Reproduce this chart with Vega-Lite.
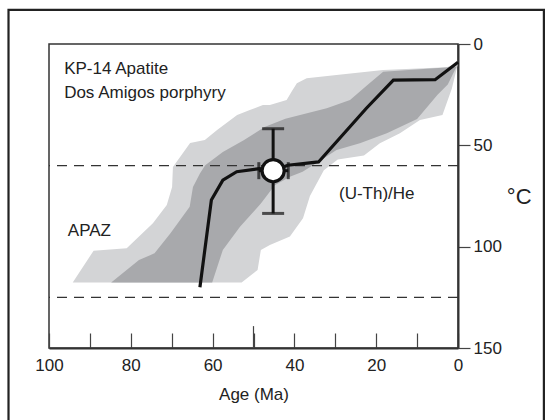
{
  "$schema": "https://vega.github.io/schema/vega-lite/v6.json",
  "width": 409,
  "height": 304,
  "autosize": {"type": "none"},
  "padding": {"left": 49, "top": 44, "right": 88, "bottom": 72},
  "background": "white",
  "config": {
    "view": {"stroke": "#333", "strokeWidth": 1.5},
    "font": "Liberation Sans",
    "axis": {"labelFont": "Liberation Sans", "titleFont": "Liberation Sans", "labelColor": "#222", "titleColor": "#222", "titleFontWeight": "normal", "grid": false}
  },
  "datasets": {
    "envelopes": [
      {"fit": "acceptable", "i": 1, "age": 94.2, "T": 117.7},
      {"fit": "acceptable", "i": 2, "age": 89.1, "T": 102},
      {"fit": "acceptable", "i": 3, "age": 81, "T": 100.8},
      {"fit": "acceptable", "i": 4, "age": 74.6, "T": 88.5},
      {"fit": "acceptable", "i": 5, "age": 71.2, "T": 79.5},
      {"fit": "acceptable", "i": 6, "age": 69.9, "T": 70.5},
      {"fit": "acceptable", "i": 7, "age": 69.7, "T": 60.7},
      {"fit": "acceptable", "i": 8, "age": 65.5, "T": 48.8},
      {"fit": "acceptable", "i": 9, "age": 61.9, "T": 47.4},
      {"fit": "acceptable", "i": 10, "age": 58.9, "T": 42.4},
      {"fit": "acceptable", "i": 11, "age": 54.0, "T": 35.0},
      {"fit": "acceptable", "i": 12, "age": 50.9, "T": 32.6},
      {"fit": "acceptable", "i": 13, "age": 47.7, "T": 30.1},
      {"fit": "acceptable", "i": 14, "age": 46.0, "T": 30.1},
      {"fit": "acceptable", "i": 15, "age": 41.9, "T": 27.6},
      {"fit": "acceptable", "i": 16, "age": 40.7, "T": 23.5},
      {"fit": "acceptable", "i": 17, "age": 39.4, "T": 19.4},
      {"fit": "acceptable", "i": 18, "age": 37.0, "T": 16.9},
      {"fit": "acceptable", "i": 19, "age": 29.7, "T": 15.3},
      {"fit": "acceptable", "i": 20, "age": 18.3, "T": 12.8},
      {"fit": "acceptable", "i": 21, "age": 2.8, "T": 11.5},
      {"fit": "acceptable", "i": 22, "age": 0, "T": 9.5},
      {"fit": "acceptable", "i": 23, "age": 1.5, "T": 22},
      {"fit": "acceptable", "i": 24, "age": 3.8, "T": 35},
      {"fit": "acceptable", "i": 25, "age": 9.3, "T": 37.5},
      {"fit": "acceptable", "i": 26, "age": 14.2, "T": 44},
      {"fit": "acceptable", "i": 27, "age": 19.1, "T": 49},
      {"fit": "acceptable", "i": 28, "age": 23, "T": 55},
      {"fit": "acceptable", "i": 29, "age": 29.4, "T": 57},
      {"fit": "acceptable", "i": 30, "age": 32.8, "T": 62.3},
      {"fit": "acceptable", "i": 31, "age": 36.2, "T": 75},
      {"fit": "acceptable", "i": 32, "age": 37.9, "T": 86},
      {"fit": "acceptable", "i": 33, "age": 41.1, "T": 95},
      {"fit": "acceptable", "i": 34, "age": 46, "T": 99.2},
      {"fit": "acceptable", "i": 35, "age": 48.2, "T": 101.6},
      {"fit": "acceptable", "i": 36, "age": 49, "T": 111.5},
      {"fit": "acceptable", "i": 37, "age": 52.9, "T": 117.7},
      {"fit": "good", "i": 1, "age": 84.8, "T": 117.7},
      {"fit": "good", "i": 2, "age": 78, "T": 106.6},
      {"fit": "good", "i": 3, "age": 74.2, "T": 103.3},
      {"fit": "good", "i": 4, "age": 70.3, "T": 93.4},
      {"fit": "good", "i": 5, "age": 65.6, "T": 80.3},
      {"fit": "good", "i": 6, "age": 64.8, "T": 70.5},
      {"fit": "good", "i": 7, "age": 63.1, "T": 63.9},
      {"fit": "good", "i": 8, "age": 61.8, "T": 59.8},
      {"fit": "good", "i": 9, "age": 57.5, "T": 53.3},
      {"fit": "good", "i": 10, "age": 52.4, "T": 47.5},
      {"fit": "good", "i": 11, "age": 47.3, "T": 41},
      {"fit": "good", "i": 12, "age": 42.2, "T": 36.9},
      {"fit": "good", "i": 13, "age": 38.6, "T": 35},
      {"fit": "good", "i": 14, "age": 32.1, "T": 31.7},
      {"fit": "good", "i": 15, "age": 26.4, "T": 27.6},
      {"fit": "good", "i": 16, "age": 22, "T": 20},
      {"fit": "good", "i": 17, "age": 18.3, "T": 13.7},
      {"fit": "good", "i": 18, "age": 0.3, "T": 11.2},
      {"fit": "good", "i": 19, "age": 0, "T": 9.8},
      {"fit": "good", "i": 20, "age": 2.5, "T": 20},
      {"fit": "good", "i": 21, "age": 5, "T": 25},
      {"fit": "good", "i": 22, "age": 10, "T": 37},
      {"fit": "good", "i": 23, "age": 17.4, "T": 44},
      {"fit": "good", "i": 24, "age": 24, "T": 49},
      {"fit": "good", "i": 25, "age": 29.7, "T": 52.3},
      {"fit": "good", "i": 26, "age": 34, "T": 58},
      {"fit": "good", "i": 27, "age": 38, "T": 63},
      {"fit": "good", "i": 28, "age": 41.1, "T": 65.5},
      {"fit": "good", "i": 29, "age": 44.8, "T": 69.7},
      {"fit": "good", "i": 30, "age": 48.2, "T": 78.7},
      {"fit": "good", "i": 31, "age": 53.3, "T": 90.2},
      {"fit": "good", "i": 32, "age": 57.5, "T": 101.6},
      {"fit": "good", "i": 33, "age": 60.1, "T": 117.7}
    ],
    "bestfit": [
      {"i": 1, "age": 63.1, "T": 120},
      {"i": 2, "age": 60.3, "T": 77},
      {"i": 3, "age": 57.5, "T": 67.2},
      {"i": 4, "age": 54.1, "T": 63},
      {"i": 5, "age": 48.6, "T": 61.5},
      {"i": 6, "age": 45.2, "T": 62.5},
      {"i": 7, "age": 41.6, "T": 59.8},
      {"i": 8, "age": 34.1, "T": 58.2},
      {"i": 9, "age": 22.4, "T": 31.7},
      {"i": 10, "age": 15.8, "T": 17.8},
      {"i": 11, "age": 5.6, "T": 17.6},
      {"i": 12, "age": 0, "T": 9}
    ],
    "sample": [
      {"age": 45.2, "T": 62.5, "Tlow": 41.8, "Thigh": 83.6, "ageOld": 48.7, "ageYoung": 41.5}
    ],
    "apaz": [{"T": 60}, {"T": 125}],
    "labels": [
      {"age": 96.3, "T": 12.3, "text": "KP-14 Apatite"},
      {"age": 96.3, "T": 24.2, "text": "Dos Amigos porphyry"},
      {"age": 95.4, "T": 92.3, "text": "APAZ"},
      {"age": 29.1, "T": 74, "text": "(U-Th)/He"}
    ]
  },
  "layer": [
    {
      "data": {"name": "envelopes"},
      "transform": [{"filter": "datum.fit === 'acceptable'"}],
      "mark": {"type": "line", "interpolate": "linear-closed", "fill": "#d3d4d6", "stroke": null, "strokeWidth": 0},
      "encoding": {
        "x": {"field": "age", "type": "quantitative", "title": "Age (Ma)", "scale": {"domain": [0, 100], "reverse": true, "nice": false},
          "axis": {"orient": "bottom", "values": [0, 10, 20, 30, 40, 50, 60, 70, 80, 90, 100], "labelExpr": "datum.value % 20 === 0 ? datum.label : ''", "tickSize": -15, "tickColor": "#444", "tickWidth": 1.2, "domainColor": "#333", "domainWidth": 2, "labelFontSize": 17, "labelPadding": 24, "title": "Age (Ma)", "titleFontSize": 17, "titlePadding": 13, "labelFlush": false}},
        "y": {"field": "T", "type": "quantitative", "title": "°C", "scale": {"domain": [0, 150], "reverse": true, "nice": false},
          "axis": {"orient": "right", "values": [0, 50, 100, 150], "tickSize": 12, "tickColor": "#444", "tickWidth": 1.2, "domainColor": "#333", "domainWidth": 2, "labelFontSize": 17, "labelPadding": 3, "title": "°C", "titleAngle": 0, "titleAlign": "left", "titleBaseline": "middle", "titleFontSize": 22, "titlePadding": 5, "labelFlush": false}},
        "order": {"field": "i", "type": "quantitative"}
      }
    },
    {
      "data": {"name": "envelopes"},
      "transform": [{"filter": "datum.fit === 'good'"}],
      "mark": {"type": "line", "interpolate": "linear-closed", "fill": "#a8a9ac", "stroke": null, "strokeWidth": 0},
      "encoding": {
        "x": {"field": "age", "type": "quantitative", "title": "Age (Ma)"},
        "y": {"field": "T", "type": "quantitative", "title": "°C"},
        "order": {"field": "i", "type": "quantitative"}
      }
    },
    {
      "data": {"name": "apaz"},
      "mark": {"type": "rule", "color": "#333", "strokeWidth": 1.3, "strokeDash": [10, 7]},
      "encoding": {"y": {"field": "T", "type": "quantitative", "title": "°C"}}
    },
    {
      "data": {"name": "bestfit"},
      "mark": {"type": "line", "color": "#111", "strokeWidth": 3.2},
      "encoding": {
        "x": {"field": "age", "type": "quantitative", "title": "Age (Ma)"},
        "y": {"field": "T", "type": "quantitative", "title": "°C"},
        "order": {"field": "i", "type": "quantitative"}
      }
    },
    {
      "data": {"name": "sample"},
      "mark": {"type": "errorbar", "ticks": true, "thickness": 3, "size": 22, "color": "#111"},
      "encoding": {
        "x": {"field": "age", "type": "quantitative", "title": "Age (Ma)"},
        "y": {"field": "Tlow", "type": "quantitative", "title": "°C"},
        "y2": {"field": "Thigh"}
      }
    },
    {
      "data": {"name": "sample"},
      "mark": {"type": "errorbar", "ticks": true, "thickness": 3, "size": 17, "color": "#111"},
      "encoding": {
        "y": {"field": "T", "type": "quantitative", "title": "°C"},
        "x": {"field": "ageOld", "type": "quantitative", "title": "Age (Ma)"},
        "x2": {"field": "ageYoung"}
      }
    },
    {
      "data": {"name": "sample"},
      "mark": {"type": "point", "shape": "circle", "size": 490, "filled": true, "fill": "white", "stroke": "#111", "strokeWidth": 3.2, "opacity": 1},
      "encoding": {
        "x": {"field": "age", "type": "quantitative", "title": "Age (Ma)"},
        "y": {"field": "T", "type": "quantitative", "title": "°C"}
      }
    },
    {
      "data": {"name": "labels"},
      "mark": {"type": "text", "align": "left", "baseline": "middle", "fontSize": 17, "font": "Liberation Sans", "color": "#222"},
      "encoding": {
        "x": {"field": "age", "type": "quantitative", "title": "Age (Ma)"},
        "y": {"field": "T", "type": "quantitative", "title": "°C"},
        "text": {"field": "text"}
      }
    },
    {
      "data": {"values": [{}]},
      "mark": {"type": "rule", "color": "#444", "strokeWidth": 1.2},
      "encoding": {"x": {"datum": 50}, "y": {"datum": 150}, "y2": {"datum": 139.2}}
    },
    {
      "data": {"values": [{}]},
      "mark": {"type": "rect", "fill": null, "fillOpacity": 0, "stroke": "#222", "strokeWidth": 2.2, "clip": false},
      "encoding": {"x": {"datum": 109.9}, "x2": {"datum": -21}, "y": {"datum": -16.8}, "y2": {"datum": 200}}
    }
  ]
}
